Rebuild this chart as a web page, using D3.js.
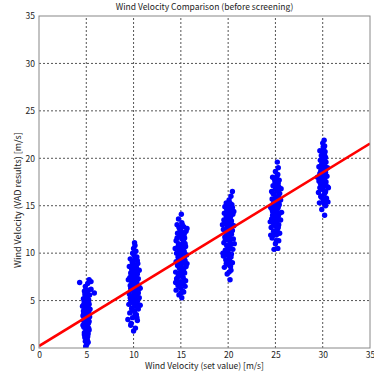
<!DOCTYPE html>
<html>
<head>
<meta charset="utf-8">
<script src="https://cdn.jsdelivr.net/npm/d3@7"></script>
<style>
  body { margin: 0; background: #fff; }
  text { font-family: "Noto Sans CJK JP", "DejaVu Sans", sans-serif; fill: #222; }
</style>
</head>
<body>
<svg width="374" height="374"></svg>
<script>
// set values (x) and the VAD results around each of them: [offset from set value, VAD result]
const setValues = [5, 10, 15, 20, 25, 30];

const vad5 = [[-0.05,0.1],[0.05,0.4],[-0.1,0.7],[0.1,0.9],[-0.15,1.1],[0.0,1.3],[0.2,1.5],[-0.2,1.6],[0.1,1.8],[-0.05,2.0],[0.25,2.1],[-0.25,2.2],[0.05,2.4],[0.15,2.5],[-0.15,2.6],[0.3,2.8],[-0.3,2.9],[0.0,3.0],[0.2,3.1],[-0.1,3.2],[0.35,3.3],[-0.35,3.4],[0.1,3.5],[-0.2,3.6],[0.25,3.7],[0.0,3.8],[-0.3,3.9],[0.15,4.0],[0.4,4.1],[-0.1,4.2],[0.2,4.3],[-0.4,4.4],[0.05,4.5],[0.3,4.6],[-0.2,4.7],[0.1,4.8],[-0.05,5.0],[0.25,5.1],[-0.3,5.2],[0.15,5.4],[-0.1,5.5],[0.35,5.6],[0.0,5.8],[0.85,5.8],[-0.2,6.0],[0.2,6.1],[0.5,6.2],[-0.1,6.5],[0.15,6.8],[-0.7,6.9],[0.5,7.0],[0.3,7.2],[0.0,1.0],[0.1,2.3],[-0.12,2.7],[0.18,3.9],[-0.22,4.9],[0.08,3.4],[-0.05,0.2],[0.3,1.9],[-0.28,3.6],[0.12,4.4],[-0.15,5.7],
  [0.2,0.6],[-0.2,1.4],[0.15,1.2],[-0.05,1.7],[0.22,2.6],[-0.18,3.0],[0.05,3.3],[0.28,3.5],[-0.08,3.7],[0.1,4.1],[-0.3,4.5],[0.25,4.8],[0.0,5.3],[-0.1,6.1],[0.1,5.9],[-0.35,2.4],[0.3,4.0],[0.0,2.1]];

const vad10 = [[0.0,1.8],[0.2,2.1],[-0.3,2.4],[0.4,2.9],[-0.1,3.2],[0.3,3.5],[-0.4,3.7],[0.1,3.9],[0.5,4.1],[-0.2,4.2],[0.2,4.4],[-0.5,4.6],[0.0,4.7],[0.4,4.9],[-0.3,5.0],[0.15,5.2],[0.6,5.3],[-0.15,5.4],[0.3,5.6],[-0.45,5.7],[0.05,5.8],[0.45,6.0],[-0.25,6.1],[0.2,6.2],[-0.05,6.4],[0.55,6.5],[-0.35,6.6],[0.1,6.7],[0.35,6.9],[-0.2,7.0],[0.0,7.1],[0.5,7.3],[-0.4,7.4],[0.25,7.5],[-0.1,7.7],[0.4,7.8],[-0.3,7.9],[0.1,8.1],[0.6,8.2],[-0.2,8.3],[0.3,8.5],[-0.45,8.6],[0.0,8.8],[0.45,8.9],[-0.15,9.1],[0.2,9.3],[-0.35,9.4],[0.35,9.6],[0.05,9.8],[-0.1,10.0],[0.25,10.2],[0.0,10.5],[0.15,10.8],[0.1,11.1],[-0.6,3.0],[0.7,4.5],[-0.55,7.2],[0.7,6.3],[-0.25,2.6],[0.35,3.2],[0.1,5.5],[-0.05,8.0],
  [0.15,3.6],[-0.15,4.0],[0.3,4.7],[-0.05,5.1],[0.5,5.8],[-0.3,6.3],[0.25,6.8],[0.1,7.3],[-0.25,7.6],[0.35,8.0],[0.0,8.4],[-0.1,8.9],[0.4,9.2],[0.15,9.5],[-0.2,6.7],[0.2,5.0],[0.05,6.1],[-0.35,5.3]];

const vad15 = [[0.1,5.3],[-0.2,5.6],[0.3,5.9],[-0.5,6.1],[0.0,6.3],[0.45,6.5],[-0.3,6.6],[0.15,6.8],[-0.1,7.0],[0.5,7.1],[-0.45,7.3],[0.25,7.4],[0.0,7.6],[-0.25,7.7],[0.4,7.9],[-0.55,8.0],[0.1,8.1],[0.3,8.3],[-0.15,8.4],[0.55,8.6],[-0.35,8.7],[0.05,8.8],[0.25,9.0],[-0.5,9.1],[0.45,9.2],[-0.05,9.4],[0.2,9.5],[-0.3,9.6],[0.6,9.8],[0.0,9.9],[-0.45,10.0],[0.35,10.2],[-0.15,10.3],[0.15,10.4],[-0.35,10.6],[0.5,10.7],[0.05,10.9],[-0.25,11.0],[0.3,11.2],[-0.5,11.3],[0.1,11.5],[0.4,11.6],[-0.1,11.8],[0.2,12.0],[-0.35,12.1],[0.55,12.3],[0.0,12.4],[-0.2,12.7],[0.3,12.8],[0.65,12.6],[-0.4,13.0],[0.1,13.2],[-0.25,13.6],[0.05,14.1],[-0.55,6.9],[0.65,8.9],[-0.6,10.5],[0.2,6.0],[-0.1,9.0],[0.35,10.0],
  [0.0,5.8],[-0.15,6.5],[0.35,7.0],[-0.3,7.5],[0.15,7.8],[0.05,8.5],[-0.25,9.2],[0.35,9.5],[0.1,10.1],[-0.1,10.6],[0.25,10.9],[-0.4,11.6],[0.1,12.2],[0.35,12.0],[-0.1,12.5],[0.15,13.0],[-0.05,8.0],[0.45,11.0]];

const vad20 = [[0.2,7.2],[-0.1,7.8],[0.3,8.2],[-0.4,8.5],[0.05,8.8],[0.45,9.0],[-0.25,9.3],[0.15,9.5],[-0.5,9.7],[0.35,9.9],[0.0,10.1],[-0.3,10.3],[0.5,10.4],[0.1,10.6],[-0.15,10.8],[0.3,10.9],[-0.45,11.1],[0.2,11.2],[-0.05,11.4],[0.55,11.5],[-0.35,11.7],[0.1,11.8],[0.35,12.0],[-0.2,12.1],[0.0,12.3],[0.45,12.4],[-0.5,12.5],[0.2,12.7],[-0.1,12.8],[0.6,12.9],[-0.3,13.1],[0.1,13.2],[0.35,13.4],[-0.45,13.5],[0.0,13.6],[0.25,13.8],[-0.2,13.9],[0.5,14.1],[-0.4,14.2],[0.1,14.3],[0.3,14.5],[-0.15,14.6],[0.45,14.8],[-0.35,14.9],[0.05,15.0],[0.25,15.2],[-0.2,15.3],[0.4,15.1],[0.6,14.4],[0.1,15.6],[0.3,16.0],[0.45,16.5],[-0.55,10.0],[0.65,11.0],[-0.6,13.0],[0.15,9.2],[-0.05,12.6],[0.25,8.6],
  [0.1,8.0],[-0.2,8.9],[0.3,9.6],[-0.1,10.2],[0.2,10.5],[-0.3,11.4],[0.15,11.6],[0.0,12.0],[0.3,12.6],[-0.2,13.3],[0.15,13.7],[-0.05,14.2],[0.3,14.7],[-0.2,15.0],[0.15,15.3],[0.2,14.0],[-0.1,9.8],[0.4,13.0]];

const vad25 = [[-0.15,10.4],[0.25,10.5],[0.0,11.0],[0.35,11.3],[-0.35,11.6],[0.1,11.9],[0.45,12.1],[-0.2,12.3],[0.2,12.5],[-0.45,12.7],[0.05,12.8],[0.35,13.0],[-0.25,13.2],[0.15,13.3],[0.55,13.5],[-0.4,13.6],[0.0,13.8],[0.3,13.9],[-0.1,14.1],[0.45,14.2],[-0.3,14.4],[0.1,14.5],[0.25,14.7],[-0.5,14.8],[0.0,15.0],[0.4,15.1],[-0.2,15.3],[0.15,15.4],[0.55,15.6],[-0.35,15.7],[0.05,15.9],[0.3,16.0],[-0.15,16.2],[0.45,16.3],[-0.4,16.5],[0.15,16.6],[0.0,16.8],[0.35,17.0],[-0.25,17.1],[0.2,17.3],[-0.05,17.5],[0.4,17.7],[0.1,17.9],[-0.3,18.0],[0.25,18.3],[0.0,18.6],[0.3,19.0],[0.2,19.6],[0.6,16.8],[-0.55,13.3],[0.65,14.3],[-0.5,11.9],[0.1,12.2],[-0.1,15.6],[0.3,14.9],[-0.2,13.9],
  [0.1,11.3],[-0.2,11.9],[0.3,12.7],[-0.1,13.0],[0.2,13.6],[-0.3,14.0],[0.1,14.8],[0.35,15.3],[-0.15,15.0],[0.2,15.8],[-0.25,16.3],[0.1,16.9],[0.3,17.4],[-0.1,17.8],[0.15,18.1],[0.05,13.4],[-0.35,14.6],[0.25,16.5]];

const vad30 = [[0.2,14.0],[-0.1,14.6],[0.3,15.0],[-0.35,15.3],[0.05,15.6],[0.4,15.8],[-0.2,16.0],[0.15,16.2],[-0.45,16.4],[0.3,16.5],[0.0,16.7],[-0.3,16.9],[0.5,17.0],[0.1,17.2],[-0.15,17.3],[0.35,17.5],[-0.4,17.6],[0.2,17.8],[-0.05,17.9],[0.45,18.1],[-0.3,18.2],[0.1,18.4],[0.3,18.5],[-0.2,18.7],[0.0,18.8],[0.5,19.0],[-0.4,19.1],[0.2,19.3],[-0.1,19.4],[0.35,19.6],[-0.25,19.8],[0.1,19.9],[0.3,20.1],[-0.15,20.3],[0.0,20.5],[0.25,20.7],[-0.3,20.8],[0.1,21.0],[0.2,21.3],[0.0,21.6],[0.15,21.9],[0.6,16.9],[-0.55,18.0],[0.55,15.4],[0.15,15.2],[-0.1,18.0],[0.25,19.7],[-0.2,17.0],
  [0.1,15.4],[-0.15,15.9],[0.25,16.4],[-0.1,16.8],[0.2,17.1],[-0.25,17.4],[0.1,17.7],[0.3,18.2],[-0.1,18.5],[0.15,19.0],[-0.2,19.2],[0.1,19.6],[0.2,20.3],[-0.05,20.0],[0.05,21.2],[0.35,18.9],[-0.3,18.4],[0.0,17.5]];

const vadResults = [vad5, vad10, vad15, vad20, vad25, vad30];

// fitted line
const fitIntercept = 0.2;
const fitSlope = 0.61;

const tickValues = [0, 5, 10, 15, 20, 25, 30, 35];

const svg = d3.select("svg"),
  width = +svg.attr("width"),
  height = +svg.attr("height");
const margin = {top: 16, right: 4, bottom: 26, left: 39};

const x = d3.scaleLinear().domain([0, 35]).range([margin.left, width - margin.right]);
const y = d3.scaleLinear().domain([0, 35]).range([height - margin.bottom, margin.top]);

svg.append("clipPath").attr("id", "plot")
  .append("rect")
  .attr("x", x(0)).attr("y", y(35))
  .attr("width", x(35) - x(0)).attr("height", y(0) - y(35));

// grid
svg.append("g")
  .selectAll("line")
  .data(tickValues.slice(1, -1))
  .join("line")
    .attr("x1", d => x(d)).attr("x2", d => x(d))
    .attr("y1", y(0)).attr("y2", y(35))
    .attr("stroke", "#555").attr("stroke-dasharray", "2,2");
svg.append("g")
  .selectAll("line")
  .data(tickValues.slice(1, -1))
  .join("line")
    .attr("y1", d => y(d)).attr("y2", d => y(d))
    .attr("x1", x(0)).attr("x2", x(35))
    .attr("stroke", "#555").attr("stroke-dasharray", "2,2");

// points
const points = vadResults.flatMap((c, i) => c.map(p => [setValues[i] + p[0], p[1]]));
svg.append("g")
  .attr("clip-path", "url(#plot)")
  .selectAll("circle")
  .data(points)
  .join("circle")
    .attr("cx", d => x(d[0]))
    .attr("cy", d => y(d[1]))
    .attr("r", 2.7)
    .attr("fill", "#0000ff");

// regression line
svg.append("path")
  .attr("clip-path", "url(#plot)")
  .datum([0, 35])
  .attr("d", d3.line().x(d => x(d)).y(d => y(fitIntercept + fitSlope * d)))
  .attr("stroke", "#ff0000")
  .attr("stroke-width", 2.6)
  .attr("fill", "none");

// frame
svg.append("rect")
  .attr("x", x(0)).attr("y", y(35))
  .attr("width", x(35) - x(0)).attr("height", y(0) - y(35))
  .attr("fill", "none").attr("stroke", "#888");

// tick labels
svg.append("g").attr("transform", `translate(0,${y(0)})`)
  .call(d3.axisBottom(x).tickValues(tickValues).tickSize(0).tickPadding(4))
  .call(g => g.select(".domain").remove())
  .call(g => g.selectAll("text").style("font-size", "8.5px").attr("fill", "#222"));
svg.append("g").attr("transform", `translate(${x(0)},0)`)
  .call(d3.axisLeft(y).tickValues(tickValues).tickSize(0).tickPadding(4))
  .call(g => g.select(".domain").remove())
  .call(g => g.selectAll("text").style("font-size", "8.5px").attr("fill", "#222"));

// titles
svg.append("text")
  .attr("x", (x(0) + x(35)) / 2).attr("y", 10)
  .attr("text-anchor", "middle").style("font-size", "8.5px")
  .text("Wind Velocity Comparison (before screening)");
svg.append("text")
  .attr("x", (x(0) + x(35)) / 2).attr("y", 369)
  .attr("text-anchor", "middle").style("font-size", "8.5px")
  .text("Wind Velocity (set value) [m/s]");
svg.append("text")
  .attr("transform", `translate(21,200) rotate(-90)`)
  .attr("text-anchor", "middle").style("font-size", "9px")
  .text("Wind Velocity (VAD results) [m/s]");
</script>
</body>
</html>
